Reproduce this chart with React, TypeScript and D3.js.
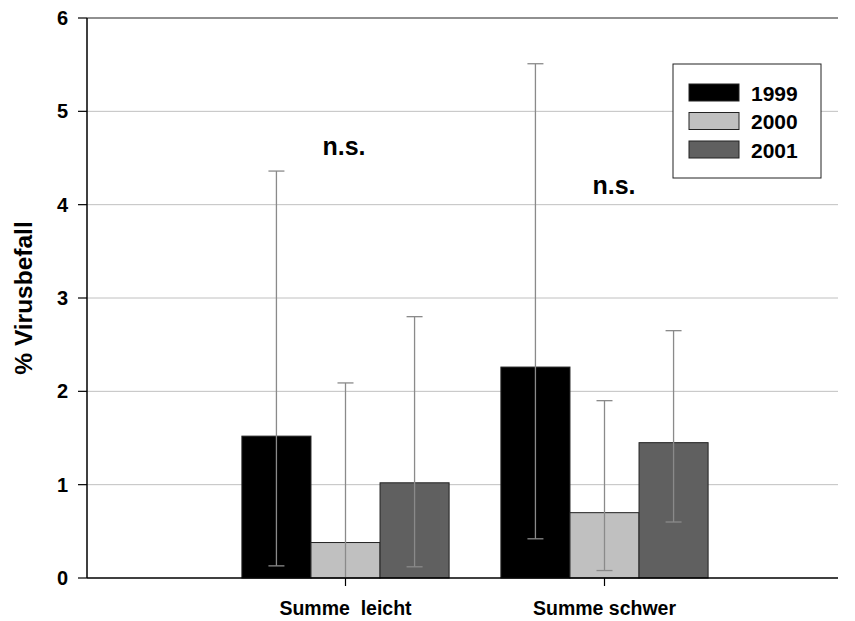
import React from "react";
import * as d3 from "d3";

const categories = ["Summe  leicht", "Summe schwer"];
const years = ["1999", "2000", "2001"];
const values1999 = [1.52, 2.26];
const values2000 = [0.38, 0.7];
const values2001 = [1.02, 1.45];
const upper1999 = [4.36, 5.51];
const upper2000 = [2.09, 1.9];
const upper2001 = [2.8, 2.65];
const lower1999 = [0.13, 0.42];
const lower2000 = [0.0, 0.08];
const lower2001 = [0.12, 0.6];
const yTicks = [0, 1, 2, 3, 4, 5, 6];
const colors = ["#000000", "#c0c0c0", "#606060"];
const annotations = [
  { cat: "Summe  leicht", value: 4.53, text: "n.s." },
  { cat: "Summe schwer", value: 4.115, text: "n.s." },
];

export default function App() {
  const W = 855, H = 621;
  const left = 87, right = 838, top = 18, bottom = 578;
  const y = d3.scaleLinear().domain([0, 6]).range([bottom, top]);
  const x = d3.scaleBand<string>().domain(categories).range([216, 734]).paddingInner(0.2).paddingOuter(0.1);
  const xs = d3.scaleBand<string>().domain(years).range([0, x.bandwidth()]);
  const vals = [values1999, values2000, values2001];
  const ups = [upper1999, upper2000, upper2001];
  const lows = [lower1999, lower2000, lower2001];
  const font = "Arial, 'Liberation Sans', sans-serif";
  const cap = 8;
  return (
    <svg width={W} height={H} style={{ position: "absolute", left: 0, top: 0 }} fontFamily={font}>
      {yTicks.filter(t => t > 0 && t < 6).map(t => (
        <line key={"g" + t} x1={left} x2={right} y1={y(t)} y2={y(t)} stroke="#c0c0c0" strokeWidth={1} />
      ))}
      <line x1={left} x2={right} y1={y(6)} y2={y(6)} stroke="#222" strokeWidth={1.2} />
      {categories.map((c, ci) =>
        years.map((yr, si) => {
          const bx = (x(c) as number) + (xs(yr) as number);
          const v = vals[si][ci];
          return (
            <rect key={c + yr} x={bx} y={y(v)} width={xs.bandwidth()} height={y(0) - y(v)}
              fill={colors[si]} stroke="#222" strokeWidth={1} />
          );
        })
      )}
      {categories.map((c, ci) =>
        years.map((yr, si) => {
          const cx = (x(c) as number) + (xs(yr) as number) + xs.bandwidth() / 2;
          const u = ups[si][ci], l = lows[si][ci];
          return (
            <g key={"e" + c + yr} stroke="#8a8a8a" strokeWidth={1.3}>
              <line x1={cx} x2={cx} y1={y(u)} y2={y(l)} />
              <line x1={cx - cap} x2={cx + cap} y1={y(u)} y2={y(u)} />
              {l > 0 && <line x1={cx - cap} x2={cx + cap} y1={y(l)} y2={y(l)} />}
            </g>
          );
        })
      )}
      <line x1={left} x2={left} y1={top} y2={bottom} stroke="#000" strokeWidth={1.5} />
      <line x1={left} x2={right} y1={bottom} y2={bottom} stroke="#000" strokeWidth={1.5} />
      {yTicks.map(t => (
        <g key={"t" + t}>
          <line x1={left - 9} x2={left} y1={y(t)} y2={y(t)} stroke="#000" strokeWidth={1.2} />
          <text x={68} y={y(t) + 7} textAnchor="end" fontSize={20} fontWeight="bold">{t}</text>
        </g>
      ))}
      {categories.map(c => {
        const cx = (x(c) as number) + x.bandwidth() / 2;
        return (
          <g key={"c" + c}>
            <line x1={cx} x2={cx} y1={bottom} y2={bottom + 8} stroke="#000" strokeWidth={1.2} />
            <text x={cx} y={615} textAnchor="middle" fontSize={19.5} fontWeight="bold" style={{ whiteSpace: "pre" }}>{c}</text>
          </g>
        );
      })}
      <text transform={`translate(32,${(top + bottom) / 2}) rotate(-90)`} textAnchor="middle" fontSize={24.5} fontWeight="bold">% Virusbefall</text>
      {annotations.map((a, i) => (
        <text key={"a" + i} x={(x(a.cat) as number) + x.bandwidth() / 2 + (i === 0 ? -1.5 : 9.5)} y={y(a.value)}
          textAnchor="middle" fontSize={25} fontWeight="bold">{a.text}</text>
      ))}
      <rect x={673} y={64} width={148} height={114} fill="#fff" stroke="#222" strokeWidth={1} />
      {years.map((yr, i) => (
        <g key={"l" + yr}>
          <rect x={689} y={84 + i * 28.5} width={50} height={17} fill={colors[i]} stroke="#222" strokeWidth={1} />
          <text x={751} y={100.5 + i * 28.5} fontSize={21} fontWeight="bold">{yr}</text>
        </g>
      ))}
    </svg>
  );
}
